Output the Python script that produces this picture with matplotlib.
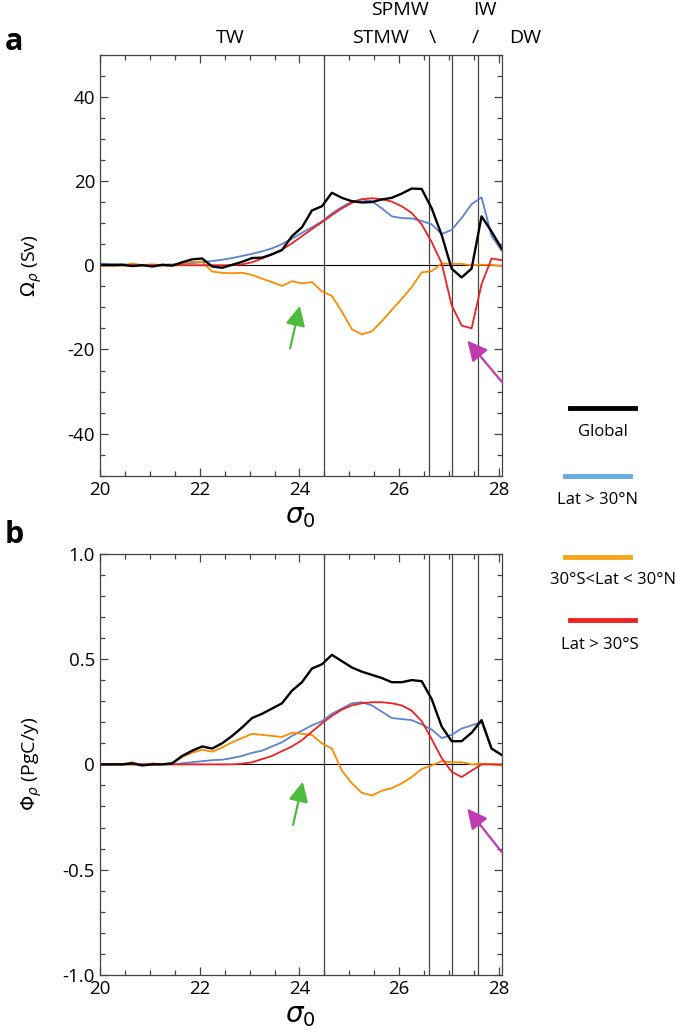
import matplotlib
matplotlib.use('Agg')
import matplotlib.pyplot as plt
from matplotlib.lines import Line2D
from matplotlib.ticker import MultipleLocator

plt.rcParams['font.family'] = ['Open Sans', 'DejaVu Sans']
plt.rcParams['mathtext.fontset'] = 'dejavusans'

# sigma_0 grid
sigma = [20.0, 20.25, 20.45, 20.65, 20.85, 21.05, 21.25, 21.45, 21.65, 21.85,
         22.05, 22.25, 22.45, 22.65, 22.85, 23.05, 23.25, 23.45, 23.65, 23.85,
         24.05, 24.25, 24.45, 24.65, 24.85, 25.05, 25.25, 25.45, 25.65, 25.85,
         26.05, 26.25, 26.45, 26.65, 26.85, 27.05, 27.25, 27.45, 27.65, 27.85, 28.05]

# panel a : Omega_rho (Sv)
omega_global = [0.1, 0.0, 0.1, -0.2, 0.0, -0.3, 0.1, -0.1, 0.7, 1.4,
                1.6, -0.3, -0.6, 0.1, 0.8, 1.7, 1.8, 2.6, 3.6, 6.9,
                9.0, 13.0, 14.0, 17.2, 16.0, 15.2, 14.9, 15.0, 15.6, 16.0,
                17.0, 18.2, 18.1, 13.5, 7.2, -0.8, -2.9, -0.8, 11.6, 8.0, 4.0]
omega_north = [0.3, 0.3, 0.2, 0.1, 0.1, 0.1, 0.1, 0.2, 0.3, 0.5,
               0.7, 1.0, 1.3, 1.7, 2.2, 2.7, 3.3, 4.0, 5.0, 6.3,
               7.7, 9.0, 10.4, 12.3, 13.8, 15.1, 15.6, 15.2, 13.5, 11.6,
               11.2, 11.1, 10.5, 9.7, 7.4, 8.4, 11.2, 14.5, 16.1, 7.0, 3.5]
omega_tropic = [-0.2, 0.0, -0.1, 0.4, 0.0, 0.2, -0.1, 0.0, 0.5, 0.8,
                0.8, -1.5, -1.8, -1.9, -1.8, -2.3, -3.2, -4.0, -4.9, -3.8,
                -4.3, -4.0, -6.2, -7.3, -11.0, -15.2, -16.4, -15.7, -13.3, -10.6,
                -8.0, -5.2, -1.7, -1.4, 0.4, 0.3, 0.3, 0.0, 0.1, 0.1, -0.2]
omega_south = [0.0, 0.0, 0.0, 0.0, 0.0, 0.0, 0.0, 0.0, 0.0, 0.0,
               0.0, 0.0, 0.0, 0.0, 0.2, 0.7, 1.6, 2.6, 3.7, 5.2,
               6.9, 8.6, 10.2, 11.9, 13.5, 14.8, 15.7, 15.9, 15.7, 15.1,
               14.0, 12.4, 9.7, 5.5, 0.5, -9.5, -14.3, -15.0, -4.5, 1.6, 1.2]

# panel b : Phi_rho (PgC/y)
phi_global = [0.0, 0.0, 0.0, 0.005, -0.005, 0.0, 0.0, 0.005, 0.04, 0.065,
              0.085, 0.075, 0.1, 0.135, 0.175, 0.22, 0.24, 0.265, 0.29, 0.35,
              0.39, 0.455, 0.475, 0.52, 0.49, 0.46, 0.44, 0.425, 0.41, 0.39,
              0.39, 0.40, 0.395, 0.31, 0.18, 0.11, 0.11, 0.15, 0.21, 0.075, 0.045]
phi_north = [0.0, 0.0, 0.0, 0.0, 0.0, 0.0, 0.0, 0.0, 0.005, 0.01,
             0.015, 0.02, 0.022, 0.03, 0.04, 0.055, 0.065, 0.085, 0.105, 0.135,
             0.16, 0.185, 0.205, 0.24, 0.265, 0.29, 0.295, 0.28, 0.25, 0.22,
             0.215, 0.21, 0.19, 0.165, 0.125, 0.14, 0.17, 0.185, 0.20, 0.075, 0.045]
phi_tropic = [-0.005, 0.0, 0.0, 0.01, -0.005, 0.005, 0.0, 0.005, 0.035, 0.055,
              0.07, 0.06, 0.08, 0.105, 0.125, 0.145, 0.14, 0.135, 0.13, 0.15,
              0.145, 0.14, 0.10, 0.075, -0.03, -0.09, -0.135, -0.148, -0.125, -0.113,
              -0.09, -0.06, -0.022, -0.005, 0.015, 0.01, 0.01, 0.0, 0.003, 0.0, -0.005]
phi_south = [0.0, 0.0, 0.0, 0.0, 0.0, 0.0, 0.0, 0.0, 0.0, 0.0,
             0.0, 0.0, 0.0, 0.0, 0.003, 0.01, 0.025, 0.04, 0.063, 0.085,
             0.115, 0.155, 0.195, 0.23, 0.26, 0.28, 0.29, 0.295, 0.295, 0.29,
             0.28, 0.255, 0.205, 0.12, 0.03, -0.035, -0.06, -0.03, 0.0, 0.0, 0.0]

# water mass boundaries
bounds = [24.5, 26.6, 27.05, 27.57]

c_black = 'black'
c_blue = '#5b82d3'
c_orange = '#ff8a00'
c_red = '#ee2222'

fig = plt.figure(figsize=(6.75, 10.3), dpi=100)
ax_a = fig.add_axes([0.148, 0.538, 0.595, 0.409])
ax_b = fig.add_axes([0.148, 0.0534, 0.595, 0.409])


def style(ax, ylim, major, minor):
    ax.set_xlim(20, 28.05)
    ax.set_ylim(*ylim)
    ax.xaxis.set_major_locator(MultipleLocator(2))
    ax.xaxis.set_minor_locator(MultipleLocator(0.5))
    ax.yaxis.set_major_locator(MultipleLocator(major))
    ax.yaxis.set_minor_locator(MultipleLocator(minor))
    ax.tick_params(which='both', direction='in', top=True, right=True,
                   color='#444444', labelsize=13.5, width=0.9)
    ax.tick_params(which='major', length=6)
    ax.tick_params(which='minor', length=3.5)
    for s in ax.spines.values():
        s.set_color('#444444')
        s.set_linewidth(0.9)
    ax.axhline(0, color='black', lw=0.8, zorder=1)
    for b in bounds:
        ax.axvline(b, color='#444444', lw=0.9, zorder=1)
    ax.set_xlabel(r'$\sigma_0$', fontsize=20)
    ax.xaxis.set_label_coords(0.5, -0.062)
    ax.yaxis.set_label_coords(-0.14, 0.5)


style(ax_a, (-50, 50), 20, 5)
ax_a.set_yticks([-40, -20, 0, 20, 40])
ax_a.set_yticklabels(['-40', '-20', '0', '20', '40'])
ax_a.plot(sigma, omega_north, color=c_blue, lw=1.3)
ax_a.plot(sigma, omega_tropic, color=c_orange, lw=1.3)
ax_a.plot(sigma, omega_south, color=c_red, lw=1.3)
ax_a.plot(sigma, omega_global, color=c_black, lw=1.7)
ax_a.set_ylabel(r'$\Omega_\rho$ (Sv)', fontsize=14)

style(ax_b, (-1, 1), 0.5, 0.1)
ax_b.set_yticks([-1.0, -0.5, 0, 0.5, 1.0])
ax_b.set_yticklabels(['-1.0', '-0.5', '0', '0.5', '1.0'])
ax_b.plot(sigma, phi_north, color=c_blue, lw=1.3)
ax_b.plot(sigma, phi_tropic, color=c_orange, lw=1.3)
ax_b.plot(sigma, phi_south, color=c_red, lw=1.3)
ax_b.plot(sigma, phi_global, color=c_black, lw=1.7)
ax_b.set_ylabel(r'$\Phi_\rho$ (PgC/y)', fontsize=14)

# arrows
green = '#4dbb3c'
magenta = '#c03ab0'
arr = dict(arrowstyle='-|>,head_length=1.2,head_width=0.6', lw=1.6)
ax_a.annotate('', xy=(24.02, -9.0), xytext=(23.8, -20.4),
              arrowprops=dict(color=green, **arr), annotation_clip=False)
ax_a.annotate('', xy=(27.33, -17.4), xytext=(28.1, -28.3),
              arrowprops=dict(color=magenta, **arr), annotation_clip=False)
ax_b.annotate('', xy=(24.08, -0.07), xytext=(23.86, -0.30),
              arrowprops=dict(color=green, **arr), annotation_clip=False)
ax_b.annotate('', xy=(27.33, -0.20), xytext=(28.1, -0.43),
              arrowprops=dict(color=magenta, **arr), annotation_clip=False)

# water mass names on top
fig.text(0.341, 0.963, 'TW', ha='center', va='center', fontsize=14)
fig.text(0.563, 0.963, 'STMW', ha='center', va='center', fontsize=14)
fig.text(0.593, 0.990, 'SPMW', ha='center', va='center', fontsize=14)
fig.text(0.641, 0.963, '\\', ha='center', va='center', fontsize=14)
fig.text(0.719, 0.990, 'IW', ha='center', va='center', fontsize=14)
fig.text(0.704, 0.963, '/', ha='center', va='center', fontsize=14)
fig.text(0.778, 0.963, 'DW', ha='center', va='center', fontsize=14)

# panel letters
fig.text(0.021, 0.959, 'a', ha='center', va='center', fontsize=22, fontweight='bold')
fig.text(0.021, 0.481, 'b', ha='center', va='center', fontsize=22, fontweight='bold')

# legend drawn by hand on the right
legend_items = [('Global', 'black', 0.844, 0.941, 0.604, 0.581, 0.893),
                ('Lat > 30°N', '#67abe3', 0.837, 0.933, 0.538, 0.515, 0.885),
                ('30°S<Lat < 30°N', '#f9a51a', 0.837, 0.933, 0.459, 0.437, 0.908),
                ('Lat > 30°S', '#ee2222', 0.844, 0.941, 0.398, 0.374, 0.889)]
for label, col, x0, x1, yl, yt, xt in legend_items:
    fig.add_artist(Line2D([x0, x1], [yl, yl], color=col, lw=3.5,
                          transform=fig.transFigure))
    fig.text(xt, yt, label, ha='center', va='center', fontsize=12)

fig.savefig('out.png', dpi=100)
